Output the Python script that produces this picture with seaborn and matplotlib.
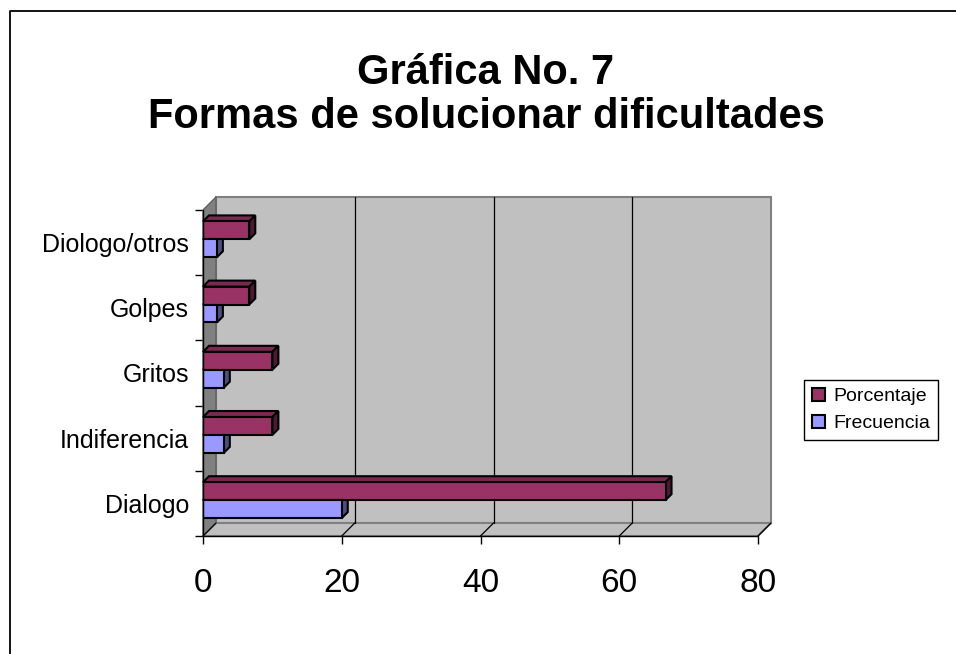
import pandas as pd
import numpy as np
import matplotlib
matplotlib.use('Agg')
import matplotlib.pyplot as plt
import seaborn as sns
from matplotlib.patches import Polygon, Patch
from matplotlib.lines import Line2D

# --- datos ---
formas = ['Diologo/otros', 'Golpes', 'Gritos', 'Indiferencia', 'Dialogo']
frecuencia = [2, 2, 3, 3, 20]
porcentaje = [6.67, 6.67, 10, 10, 66.67]
series = ['Porcentaje', 'Frecuencia']
colores = {'Porcentaje': '#993366', 'Frecuencia': '#9999FF'}
lados = {'Porcentaje': '#4D1A33', 'Frecuencia': '#4D4D80'}
techos = {'Porcentaje': '#7A2952', 'Frecuencia': '#7A7ACC'}
xticks = [0, 20, 40, 60, 80]

df = pd.DataFrame({
    'forma': formas * 2,
    'valor': porcentaje + frecuencia,
    'serie': ['Porcentaje'] * len(formas) + ['Frecuencia'] * len(formas),
})

sns.set_style('white')
plt.rcParams['font.family'] = ['Liberation Sans', 'DejaVu Sans']
plt.rcParams['text.color'] = 'black'
plt.rcParams['xtick.color'] = 'black'
plt.rcParams['ytick.color'] = 'black'
plt.rcParams['xtick.labelcolor'] = 'black'
plt.rcParams['ytick.labelcolor'] = 'black'

W, H = 956, 654
fig = plt.figure(figsize=(W / 100, H / 100), dpi=100)
# plano frontal del grafico 3D (en pixeles)
x0, x1, ytop, ybot = 203, 758, 210, 536
ax = fig.add_axes([x0 / W, (H - ybot) / H, (x1 - x0) / W, (ybot - ytop) / H])

sns.barplot(data=df, x='valor', y='forma', hue='serie', order=formas,
            hue_order=series, palette=colores, saturation=1, orient='h', width=0.55,
            edgecolor='black', linewidth=1.5, ax=ax, legend=False, zorder=3)

ax.set_xlim(0, 80)
ax.set_ylim(len(formas) - 0.5, -0.5)

# conversion pixel -> datos
ppx = (x1 - x0) / 80.0
ppy = (ybot - ytop) / len(formas)
def off(px):
    return px / ppx, -px / ppy

# paredes del fondo
dx, dy = off(13)
ya, yb = -0.5, len(formas) - 0.5
ax.add_patch(Polygon([(dx, ya + dy), (80 + dx, ya + dy), (80 + dx, yb + dy), (dx, yb + dy)],
                     closed=True, facecolor='#C0C0C0', edgecolor='#808080', lw=1.5,
                     zorder=0.5, clip_on=False))
ax.add_patch(Polygon([(0, ya), (dx, ya + dy), (dx, yb + dy), (0, yb)],
                     closed=True, facecolor='#808080', edgecolor='#606060', lw=1,
                     zorder=0.6, clip_on=False))
ax.add_patch(Polygon([(0, yb), (80, yb), (80 + dx, yb + dy), (dx, yb + dy)],
                     closed=True, facecolor='#C0C0C0', edgecolor='#808080', lw=1.5,
                     zorder=0.6, clip_on=False))
for t in xticks:
    if 0 < t < 80:
        ax.plot([t + dx, t + dx], [ya + dy, yb + dy], color='black', lw=0.9,
                zorder=0.7, clip_on=False)
    ax.plot([t, t + dx], [yb, yb + dy], color='black', lw=0.9, zorder=0.7, clip_on=False)

# caras laterales y superiores de las barras
bx, by = off(6)
for p, s in zip(ax.patches[:], [s for s in series for _ in formas]):
    if not hasattr(p, 'get_width'):
        continue
    p.set_y(p.get_y() - 0.05)
    x, y, w, h = p.get_x(), p.get_y(), p.get_width(), p.get_height()
    ax.add_patch(Polygon([(x, y), (x + bx, y + by), (x + w + bx, y + by), (x + w, y)],
                         closed=True, facecolor=techos[s], edgecolor='black', lw=1.5,
                         zorder=2, clip_on=False))
    ax.add_patch(Polygon([(x + w, y), (x + w + bx, y + by), (x + w + bx, y + h + by), (x + w, y + h)],
                         closed=True, facecolor=lados[s], edgecolor='black', lw=1.5,
                         zorder=2, clip_on=False))

# ejes
for sp in ax.spines.values():
    sp.set_visible(False)
ax.plot([0, 0], [ya, yb], color='black', lw=1, clip_on=False, zorder=4)
ax.plot([0, 80], [yb, yb], color='black', lw=1, clip_on=False, zorder=4)
ax.set_xticks(xticks)
ax.set_xticklabels([str(t) for t in xticks], fontsize=24)
ax.set_yticks(range(len(formas)))
ax.set_yticklabels(formas, fontsize=18)
ax.set_yticks(np.arange(-0.5, len(formas)), minor=True)
ax.tick_params(axis='y', which='major', left=True, length=0, pad=10)
ax.tick_params(axis='y', which='minor', left=True, length=6, width=1, color='black', direction='out')
ax.tick_params(axis='x', which='major', bottom=True, length=6, width=1, color='black',
               direction='out', pad=17)
ax.set_xlabel('')
ax.set_ylabel('')
ax.grid(False)

# titulo
fig.text(486 / W, 1 - 95 / H, 'Gráfica No. 7\nFormas de solucionar dificultades',
         ha='center', va='center', fontsize=30, fontweight='bold', linespacing=1.12)

# leyenda
handles = [Patch(facecolor=colores[s], edgecolor='black', lw=1.5, label=s) for s in series]
fig.legend(handles=handles, loc='center', bbox_to_anchor=(871 / W, 1 - 410 / H),
           fontsize=14, frameon=True, fancybox=False, edgecolor='black',
           handlelength=0.7, handleheight=0.7, handletextpad=0.4,
           borderpad=0.4, labelspacing=0.5, framealpha=1)

# marco del grafico
fig.add_artist(Line2D([10 / W, 10 / W, 1], [0, 1 - 11 / H, 1 - 11 / H],
                      transform=fig.transFigure, color='black', lw=1.3))

fig.savefig('out.png', dpi=100)
